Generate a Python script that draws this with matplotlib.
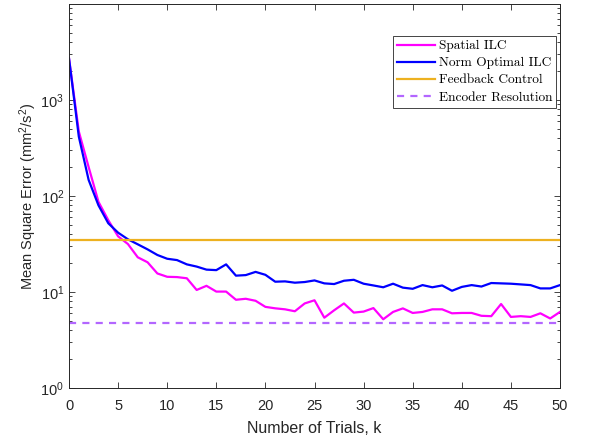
import matplotlib
matplotlib.use("Agg")
import matplotlib.pyplot as plt
import numpy as np
from matplotlib.ticker import LogLocator, NullFormatter, FixedLocator

trials = list(range(0, 51))
spatial_ilc = [2720, 470, 200, 87, 56, 38, 31.6, 23, 20.4, 15.6,
               14.4, 14.3, 13.9, 10.5, 11.6, 10.1, 10.1, 8.3, 8.5, 8.1,
               7.0, 6.76, 6.6, 6.3, 7.6, 8.2, 5.4, 6.45, 7.6, 6.1,
               6.25, 6.8, 5.2, 6.2, 6.75, 6.05, 6.2, 6.6, 6.6, 6.0,
               6.05, 6.05, 5.65, 5.6, 7.5, 5.5, 5.6, 5.5, 6.0, 5.3, 6.2]
norm_optimal_ilc = [2720, 415, 147, 80, 52, 41.5, 35.4, 31.4, 27.8, 24.3,
                    22.2, 21.5, 19.4, 18.4, 17.1, 16.9, 19.4, 14.8, 15.0, 16.2,
                    15.1, 12.8, 12.9, 12.5, 12.7, 13.2, 12.3, 12.1, 13.1, 13.4,
                    12.2, 11.7, 11.2, 12.2, 11.1, 10.8, 11.8, 11.2, 11.7, 10.3,
                    11.3, 11.8, 11.4, 12.4, 12.3, 12.2, 12.0, 11.8, 10.9, 10.9, 11.8]
feedback_control = 35.0
encoder_resolution = 4.75

labels = ["Spatial ILC", "Norm Optimal ILC", "Feedback Control", "Encoder Resolution"]
x_ticks = [0, 5, 10, 15, 20, 25, 30, 35, 40, 45, 50]
y_ticks = [1, 10, 100, 1000]
y_ticklabels = [r"$10^0$", r"$10^1$", r"$10^2$", r"$10^3$"]

plt.rcParams['font.family'] = ['Liberation Sans', 'DejaVu Sans']
plt.rcParams['mathtext.fontset'] = 'custom'
plt.rcParams['mathtext.rm'] = 'Liberation Sans'
plt.rcParams['mathtext.it'] = 'Liberation Sans'

fig = plt.figure(figsize=(5.98, 4.42), dpi=100)
ax = fig.add_axes([69/598, 54/442, 491/598, 384/442])

axc = '#262626'
lw = 1.6
ax.plot(trials, spatial_ilc, color='#FF00FF', lw=lw, label=labels[0])
ax.plot(trials, norm_optimal_ilc, color='#0000FF', lw=lw, label=labels[1])
ax.axhline(feedback_control, color='#EDB120', lw=lw, label=labels[2])
ax.axhline(encoder_resolution, color='#B366FF', lw=lw, ls=(0, (3.2, 2.8)), label=labels[3])

ax.set_yscale('log')
ax.set_xlim(0, 50)
ax.set_ylim(1, 1e4)
ax.set_xticks(x_ticks)
ax.set_xticklabels([str(t) for t in x_ticks])
ax.yaxis.set_major_locator(FixedLocator(y_ticks))
ax.set_yticklabels(y_ticklabels)
ax.yaxis.set_minor_locator(LogLocator(base=10, subs=np.arange(2, 10)))
ax.yaxis.set_minor_formatter(NullFormatter())

ax.tick_params(axis='both', which='both', direction='in', top=True, right=True,
               colors=axc, labelcolor=axc, labelsize=10.5)
ax.tick_params(axis='x', pad=8)
ax.tick_params(which='major', length=4.5, width=0.6)
ax.tick_params(which='minor', length=2.5, width=0.6)
for s in ax.spines.values():
    s.set_color(axc)
    s.set_linewidth(0.7)

ax.set_xlabel("Number of Trials, k", fontsize=11.5, color=axc, labelpad=6)
ax.set_ylabel(r"Mean Square Error (mm$^2$/s$^2$)", fontsize=10.5, color=axc, labelpad=1)

leg = ax.legend(loc='upper right', bbox_to_anchor=(0.992, 0.917),
                prop=dict(family='cmr10', size=9.6), frameon=True, fancybox=False,
                edgecolor=axc, framealpha=1, handlelength=2.9, handletextpad=0.25,
                borderpad=0.3, labelspacing=0.36, borderaxespad=0)
leg.get_frame().set_linewidth(0.6)

fig.savefig("out.png", dpi=100)
